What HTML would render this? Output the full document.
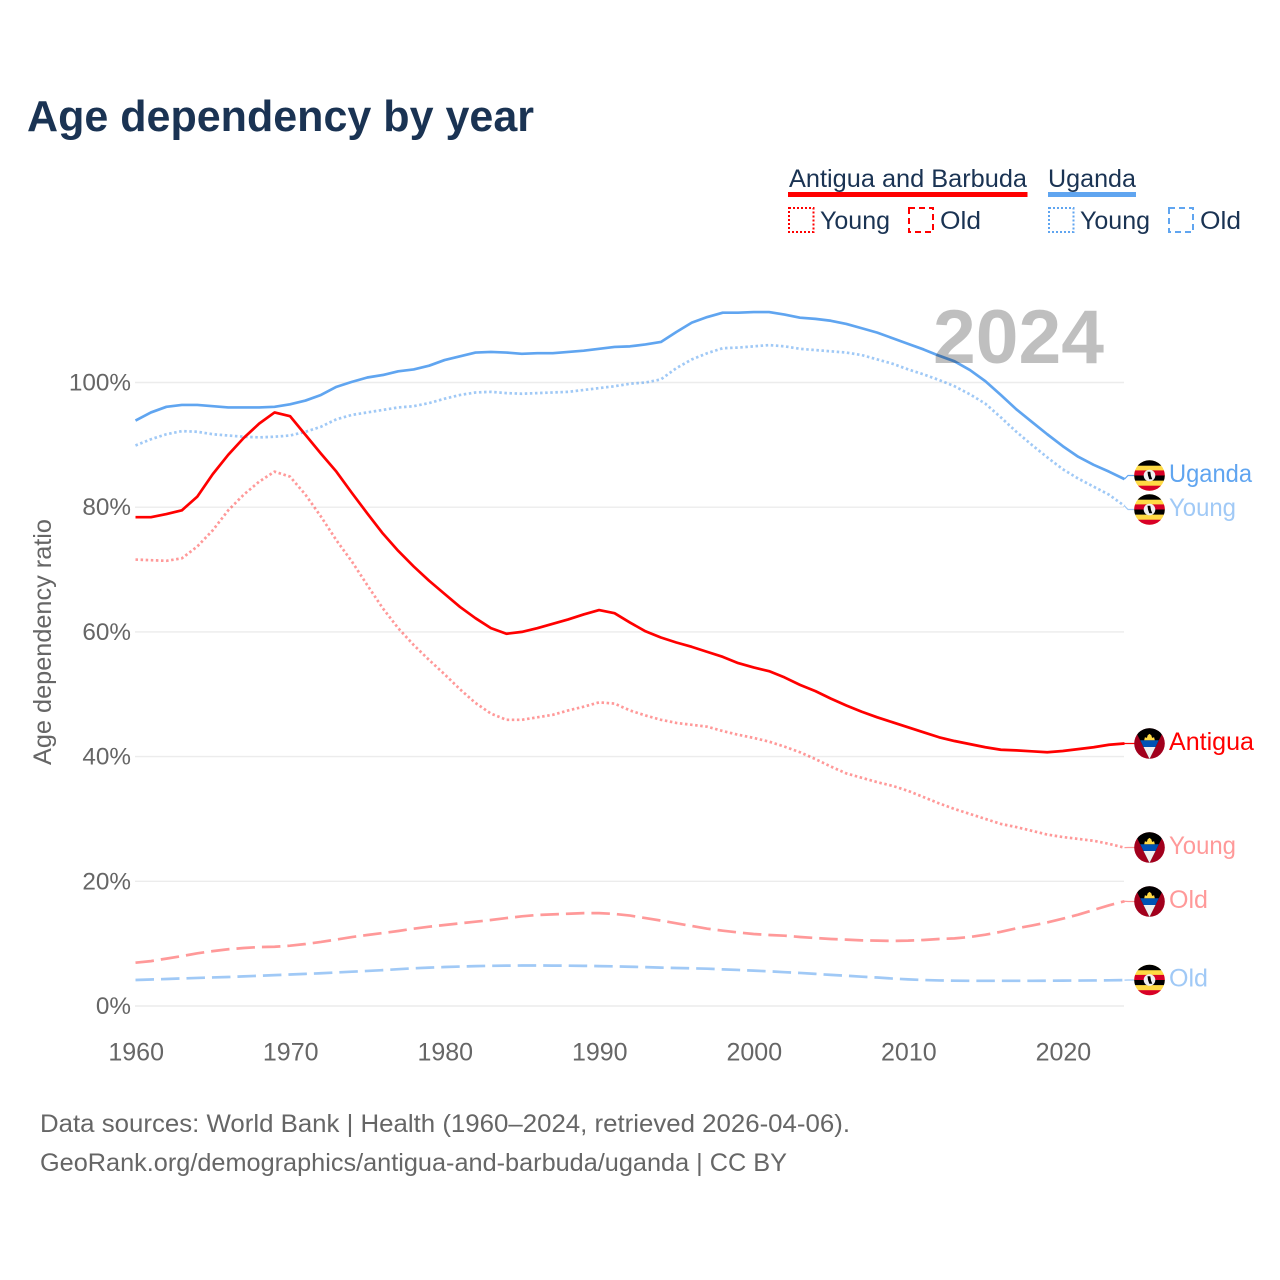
<!DOCTYPE html>
<html lang="en">
<head>
<meta charset="utf-8">
<title>Age dependency by year</title>
<style>
html,body{margin:0;padding:0;background:#fff;}
svg{display:block;font-family:"Liberation Sans",sans-serif;}
</style>
</head>
<body>
<svg id="chart" xmlns="http://www.w3.org/2000/svg" width="1280" height="1280" viewBox="0 0 1280 1280">
<defs>
<clipPath id="flag-clip"><circle cx="0" cy="0" r="15.3"/></clipPath>
<g id="flag-ug" clip-path="url(#flag-clip)">
<rect x="-16" y="-16" width="32" height="32" fill="#ffda44"/>
<rect x="-16" y="-16" width="32" height="6.2" fill="#000"/>
<rect x="-16" y="-5.1" width="32" height="5.1" fill="#d80027"/>
<rect x="-16" y="0" width="32" height="5.1" fill="#000"/>
<rect x="-16" y="10.2" width="32" height="6" fill="#d80027"/>
<circle cx="0" cy="0" r="5.8" fill="#f0f0f0"/>
<path d="M-2-3.8L0.8-3.8L1.5 0.5L2.8 3.8L-0.2 3.8L-1.5 0Z" fill="#000"/>
</g>
<g id="flag-ag" clip-path="url(#flag-clip)">
<rect x="-16" y="-16" width="32" height="32" fill="#a2001d"/>
<path d="M-15.5-15.5L15.5-15.5L0 15.5Z" fill="#000"/>
<path d="M-9.3-3.2L9.3-3.2L6 3.5L-6 3.5Z" fill="#0052b4"/>
<path d="M-6 3.5L6 3.5L0 15.5Z" fill="#f0f0f0"/>
<path d="M-5.3-3.2L-4.6-6.2L-2.6-5.6L-1.8-8.2L0-9.6L1.8-8.2L2.6-5.6L4.6-6.2L5.3-3.2Z" fill="#ffda44"/>
</g>
</defs>

<text x="27" y="131" font-size="44" font-weight="700" fill="#1a3353" textLength="507" lengthAdjust="spacingAndGlyphs">Age dependency by year</text>

<g font-size="25" fill="#1a3353">
  <text x="789" y="187" textLength="238" lengthAdjust="spacingAndGlyphs">Antigua and Barbuda</text>
  <rect x="788" y="192" width="239.500" height="5" fill="#ff0000"/>
  <rect x="789" y="208" width="24.500" height="24" fill="none" stroke="#ff0000" stroke-width="2" stroke-dasharray="2 2"/>
  <text x="820" y="229" textLength="70" lengthAdjust="spacingAndGlyphs">Young</text>
  <rect x="909" y="208" width="24" height="24" fill="none" stroke="#ff0000" stroke-width="2" stroke-dasharray="6 4"/>
  <text x="940" y="229" textLength="41" lengthAdjust="spacingAndGlyphs">Old</text>
  <text x="1048" y="187" textLength="88" lengthAdjust="spacingAndGlyphs">Uganda</text>
  <rect x="1048" y="192" width="88" height="5" fill="#60a5f0"/>
  <rect x="1049" y="208" width="24.500" height="24" fill="none" stroke="#60a5f0" stroke-width="2" stroke-dasharray="2 2"/>
  <text x="1080" y="229" textLength="70" lengthAdjust="spacingAndGlyphs">Young</text>
  <rect x="1169" y="208" width="24" height="24" fill="none" stroke="#60a5f0" stroke-width="2" stroke-dasharray="6 4"/>
  <text x="1200" y="229" textLength="41" lengthAdjust="spacingAndGlyphs">Old</text>
</g>

<text transform="translate(51,765) rotate(-90)" font-size="25" fill="#666" textLength="246" lengthAdjust="spacingAndGlyphs">Age dependency ratio</text>

<g id="grid"></g>
<g id="yticks"></g>
<g id="xticks"></g>
<g id="series"></g>

<text x="933" y="363" font-size="76" font-weight="700" fill="#000" fill-opacity="0.25" textLength="171" lengthAdjust="spacingAndGlyphs">2024</text>

<g id="ends"></g>

<g font-size="25" fill="#666">
  <text x="40" y="1132" textLength="810" lengthAdjust="spacingAndGlyphs">Data sources: World Bank | Health (1960–2024, retrieved 2026-04-06).</text>
  <text x="40" y="1171" textLength="747" lengthAdjust="spacingAndGlyphs">GeoRank.org/demographics/antigua-and-barbuda/uganda | CC BY</text>
</g>
</svg>

<script>
const years = [1960,1961,1962,1963,1964,1965,1966,1967,1968,1969,1970,1971,1972,1973,1974,1975,1976,1977,1978,1979,1980,1981,1982,1983,1984,1985,1986,1987,1988,1989,1990,1991,1992,1993,1994,1995,1996,1997,1998,1999,2000,2001,2002,2003,2004,2005,2006,2007,2008,2009,2010,2011,2012,2013,2014,2015,2016,2017,2018,2019,2020,2021,2022,2023,2024];
const xTickLabels = [1960,1970,1980,1990,2000,2010,2020];
const yTickLabels = [0,20,40,60,80,100];

const antiguaTotal = [78.4,78.4,78.9,79.5,81.7,85.3,88.4,91.1,93.4,95.2,
94.6,91.6,88.6,85.7,82.3,79,75.8,73,70.5,68.2,
66.1,64,62.2,60.6,59.7,60,60.6,61.3,62,62.8,
63.5,63,61.5,60.1,59.1,58.3,57.6,56.8,56,55,
54.3,53.7,52.7,51.5,50.5,49.3,48.2,47.2,46.3,45.5,
44.7,43.9,43.1,42.5,42,41.5,41.1,41,40.85,40.7,
40.9,41.2,41.5,41.9,42.1];
const antiguaYoung = [71.6,71.5,71.4,71.8,73.7,76.3,79.5,82,84.1,85.7,
84.9,82,78.5,74.7,71.3,67.5,63.8,60.6,57.9,55.5,
53.2,50.8,48.6,46.9,45.9,45.9,46.3,46.7,47.4,48,
48.7,48.5,47.4,46.6,45.9,45.4,45.1,44.8,44.1,43.5,
43,42.4,41.6,40.7,39.6,38.4,37.3,36.6,35.9,35.3,
34.5,33.5,32.5,31.6,30.8,30,29.2,28.7,28.1,27.5,
27.1,26.8,26.5,26,25.4];
const antiguaOld = [6.95,7.2,7.6,8,8.45,8.8,9.1,9.3,9.46,9.5,
9.67,9.94,10.27,10.66,11.06,11.39,11.7,12.03,12.4,12.72,
12.99,13.26,13.52,13.79,14.1,14.38,14.6,14.7,14.8,14.9,
14.9,14.76,14.5,14.1,13.7,13.26,12.83,12.4,12.08,11.8,
11.55,11.39,11.28,11.07,10.9,10.75,10.64,10.53,10.48,10.43,
10.48,10.59,10.75,10.85,11.07,11.44,11.9,12.45,12.9,13.4,
14,14.65,15.4,16.15,16.8];
const ugandaTotal = [93.9,95.2,96.1,96.4,96.4,96.2,96,96,96,96.1,
96.5,97.1,98,99.3,100.1,100.8,101.2,101.8,102.1,102.7,
103.6,104.2,104.8,104.9,104.8,104.6,104.7,104.7,104.9,105.1,
105.4,105.7,105.8,106.1,106.5,108.1,109.6,110.5,111.2,111.2,
111.3,111.3,110.9,110.4,110.2,109.9,109.4,108.7,108,107.1,
106.2,105.3,104.3,103.4,102,100.2,98,95.7,93.7,91.7,
89.8,88.1,86.8,85.7,84.5];
const ugandaYoung = [89.9,90.9,91.7,92.2,92.1,91.7,91.5,91.3,91.2,91.3,
91.5,92.1,92.9,94.1,94.8,95.2,95.6,96,96.2,96.7,
97.4,98,98.4,98.5,98.3,98.2,98.3,98.4,98.5,98.8,
99.1,99.4,99.8,100,100.5,102.3,103.7,104.7,105.5,105.6,
105.8,106,105.8,105.4,105.2,105,104.8,104.4,103.7,103,
102.1,101.3,100.4,99.4,98.1,96.6,94.4,92.1,90,88,
86.1,84.6,83.3,82,80.2];
const ugandaOld = [4.17,4.25,4.33,4.42,4.5,4.58,4.65,4.75,4.85,4.95,
5.05,5.15,5.25,5.38,5.5,5.62,5.75,5.9,6.05,6.15,
6.25,6.33,6.4,6.44,6.47,6.49,6.5,6.48,6.47,6.44,
6.4,6.36,6.3,6.23,6.15,6.1,6.04,5.98,5.88,5.78,
5.67,5.56,5.42,5.3,5.15,4.99,4.86,4.7,4.57,4.4,
4.27,4.17,4.1,4.06,4.04,4.04,4.04,4.04,4.04,4.05,
4.07,4.08,4.1,4.12,4.15];

const NS = 'http://www.w3.org/2000/svg';
function xScale(year){ return 135.5 + (year - 1960) * (1124.5 - 135.5) / 64; }
function yScale(v){ return 1006 - v * 6.235; }
function make(tag, attrs, parent){
  const el = document.createElementNS(NS, tag);
  for (const k in attrs) el.setAttribute(k, attrs[k]);
  parent.appendChild(el);
  return el;
}

const gridG = document.getElementById('grid');
const yG = document.getElementById('yticks');
yTickLabels.forEach(function(t){
  const line = make('line', {x1:135, x2:1124, y1:yScale(t), y2:yScale(t), stroke:'#ececec', 'stroke-width':1.4}, gridG);
  
  
  const label = make('text', {x:131, y:yScale(t)+8, 'text-anchor':'end', 'font-size':24.3, fill:'#666'}, yG);
  
  
  label.textContent = t + '%';
});

const xG = document.getElementById('xticks');
xTickLabels.forEach(function(t){
  const label = make('text', {x:xScale(t) + 0.7, y:1060.5, 'text-anchor':'middle', 'font-size':25, fill:'#666'}, xG);
  
  
  label.textContent = t;
});

const seriesG = document.getElementById('series');
function drawSeries(values, color, opacity, dash, name){
  const pts = values.map(function(v, i){ return xScale(years[i]).toFixed(2) + ',' + yScale(v).toFixed(2); }).join(' ');
  const line = make('polyline', {points:pts, fill:'none', stroke:color, 'stroke-width':2.7, 'stroke-opacity':opacity, 'stroke-linejoin':'round', 'stroke-dasharray':dash}, seriesG);
  
  
}
drawSeries(ugandaOld, '#60a5f0', 0.6, '18.5 7', 'line-uganda-old');
drawSeries(antiguaOld, '#ff0000', 0.4, '18.5 7', 'line-antigua-old');
drawSeries(antiguaYoung, '#ff0000', 0.4, '2.5 2.6', 'line-antigua-young');
drawSeries(ugandaYoung, '#60a5f0', 0.6, '2.5 2.6', 'line-uganda-young');
drawSeries(antiguaTotal, '#ff0000', 1, 'none', 'line-antigua-total');
drawSeries(ugandaTotal, '#60a5f0', 1, 'none', 'line-uganda-total');

const endG = document.getElementById('ends');
function drawEnd(values, flag, flagY, text, textWidth, color, opacity, name){
  const endY = yScale(values[values.length - 1]);
  const endX = xScale(years[years.length - 1]);
  const pts = endX + ',' + endY + ' ' + (endX + 3.5) + ',' + flagY + ' 1135,' + flagY;
  const conn = make('polyline', {points:pts, fill:'none', stroke:color, 'stroke-opacity':opacity, 'stroke-width':1.2}, endG);
  
  
  const icon = make('use', {href:'#flag-' + flag, x:1149.5, y:flagY}, endG);
  
  
  const label = make('text', {x:1169, y:flagY + 6.3, 'font-size':25, fill:color, 'fill-opacity':opacity, textLength:textWidth, lengthAdjust:'spacingAndGlyphs'}, endG);
  
  
  label.textContent = text;
}
drawEnd(ugandaTotal, 'ug', 475.5, 'Uganda', 83, '#60a5f0', 1, 'end-uganda-total');
drawEnd(ugandaYoung, 'ug', 509.5, 'Young', 67, '#60a5f0', 0.6, 'end-uganda-young');
drawEnd(antiguaTotal, 'ag', 743.5, 'Antigua', 85, '#ff0000', 1, 'end-antigua-total');
drawEnd(antiguaYoung, 'ag', 847.5, 'Young', 67, '#ff0000', 0.4, 'end-antigua-young');
drawEnd(antiguaOld, 'ag', 901.5, 'Old', 39, '#ff0000', 0.4, 'end-antigua-old');
drawEnd(ugandaOld, 'ug', 980, 'Old', 39, '#60a5f0', 0.6, 'end-uganda-old');
</script>
</body>
</html>
